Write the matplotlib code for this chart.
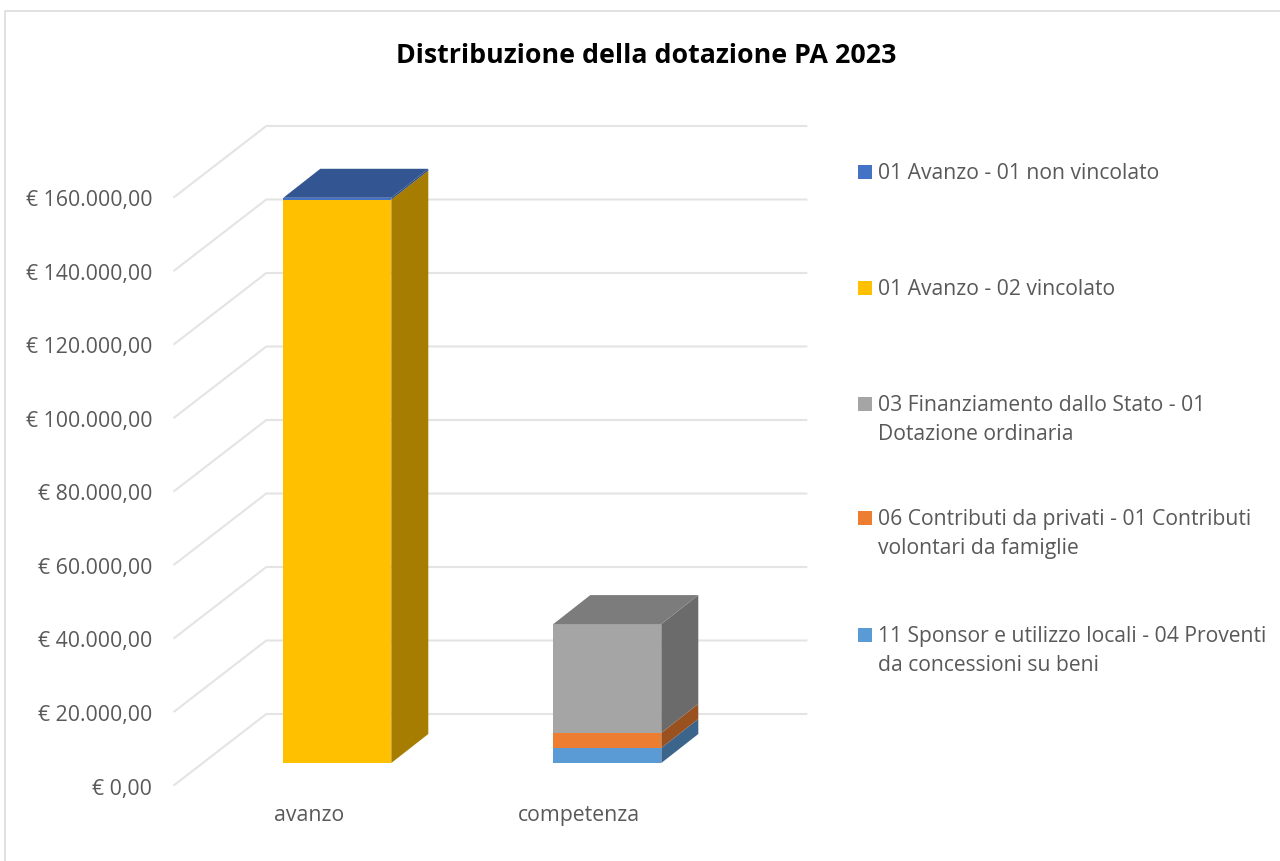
import matplotlib
matplotlib.use("Agg")
import matplotlib.pyplot as plt
from matplotlib.patches import Polygon, Rectangle
from matplotlib.lines import Line2D
from matplotlib.colors import to_rgb
from matplotlib.transforms import Affine2D

categories = ["avanzo", "competenza"]
tick_values = [0, 20000, 40000, 60000, 80000, 100000, 120000, 140000, 160000]
title = "Distribuzione della dotazione PA 2023"

# bottom-to-top stacking order
sponsor = [0, 4100]
privati = [0, 4100]
stato = [0, 29600]
vincolato = [153300, 0]
non_vincolato = [500, 0]

series_values = [sponsor, privati, stato, vincolato, non_vincolato]
series_colors = ["#5b9bd5", "#ed7d31", "#a5a5a5", "#ffc000", "#4472c4"]

legend_labels = [
    "01 Avanzo - 01 non vincolato",
    "01 Avanzo - 02 vincolato",
    "03 Finanziamento dallo Stato - 01\nDotazione ordinaria",
    "06 Contributi da privati - 01 Contributi\nvolontari da famiglie",
    "11 Sponsor e utilizzo locali - 04 Proventi\nda concessioni su beni",
]
legend_colors = ["#4472c4", "#ffc000", "#a5a5a5", "#ed7d31", "#5b9bd5"]
legend_y_px = [172, 288, 404, 518, 635]

W, H = 1280, 861
TEXT = "#595959"
GRID = "#e4e4e4"
plt.rcParams["font.family"] = ["Open Sans", "DejaVu Sans"]

fig = plt.figure(figsize=(W / 100, H / 100), dpi=100, facecolor="white")
ax = fig.add_axes([174.3 / W, (H - 785) / H, 540 / W, 588 / H])
ax.set_xlim(-0.5, 1.5)
ax.set_ylim(0, 160000)
ax.patch.set_visible(False)
for s in ax.spines.values():
    s.set_visible(False)

PX_X = 2.0 / 540        # x data units per pixel
PX_V = 160000 / 588     # value units per pixel


def shade(c, f):
    return tuple(v * f for v in to_rgb(c))


# walls / gridlines
wall_dx, wall_dv = 92 * PX_X, 71 * PX_V
for v in tick_values:
    ax.plot([-0.5, -0.5 + wall_dx, 1.5 + wall_dx], [v, v + wall_dv, v + wall_dv],
            color=GRID, lw=1.5, zorder=1, clip_on=False, solid_joinstyle="miter")

# 3D bars
plane_dx, plane_dv = 28 * PX_X, 22 * PX_V
depth_dx, depth_dv = 37 * PX_X, 29 * PX_V
bar_w = 108 * PX_X
for i in range(len(categories)):
    base = 0
    x0 = i - bar_w / 2 + plane_dx
    x1 = x0 + bar_w
    last = None
    for vals, col in zip(series_values, series_colors):
        val = vals[i]
        if val <= 0:
            continue
        y0, y1 = base + plane_dv, base + val + plane_dv
        ax.bar(x0, val, width=bar_w, bottom=y0, align="edge", color=col, lw=0,
               zorder=3, clip_on=False)
        ax.add_patch(Polygon([(x1, y0), (x1 + depth_dx, y0 + depth_dv),
                              (x1 + depth_dx, y1 + depth_dv), (x1, y1)],
                             closed=True, fc=shade(col, 0.65), lw=0, zorder=3, clip_on=False))
        base += val
        last = col
    ytop = base + plane_dv
    ax.add_patch(Polygon([(x0, ytop), (x1, ytop), (x1 + depth_dx, ytop + depth_dv),
                          (x0 + depth_dx, ytop + depth_dv)],
                         closed=True, fc=shade(last, 0.75), lw=0, zorder=3, clip_on=False))

# axes ticks on the front plane
ax.set_yticks(tick_values)
ax.set_yticklabels(["€ " + f"{v:,.2f}".replace(",", "X").replace(".", ",").replace("X", ".")
                    for v in tick_values], va="center_baseline")
ax.set_xticks(range(len(categories)))
ax.set_xticklabels(categories)
ax.tick_params(axis="y", length=0, pad=16, labelsize=15.3, labelcolor=TEXT)
ax.tick_params(axis="x", length=0, pad=14.5, labelsize=15.3, labelcolor=TEXT)
for lbl in ax.get_yticklabels():
    lbl.set_transform(lbl.get_transform() + Affine2D().translate(0, -1.5))

# title
fig.text(646 / W, 1 - 56 / H, title, ha="center", va="center", fontsize=19.3,
         fontweight="bold", color="black")

# legend
for lab, col, y in zip(legend_labels, legend_colors, legend_y_px):
    fig.add_artist(Rectangle((858 / W, 1 - (y + 7) / H), 14 / W, 14 / H,
                             transform=fig.transFigure, fc=col, lw=0))
    fig.text(878 / W, 1 - (y - 9) / H, lab, ha="left", va="top", fontsize=15.2,
             color=TEXT, linespacing=1.47)

# chart frame
fig.add_artist(Line2D([4.5 / W, 4.5 / W, 1], [0, 1 - 10.5 / H, 1 - 10.5 / H],
                      transform=fig.transFigure, color="#d9d9d9", lw=1.1))

fig.savefig("out.png", dpi=100, facecolor="white")
